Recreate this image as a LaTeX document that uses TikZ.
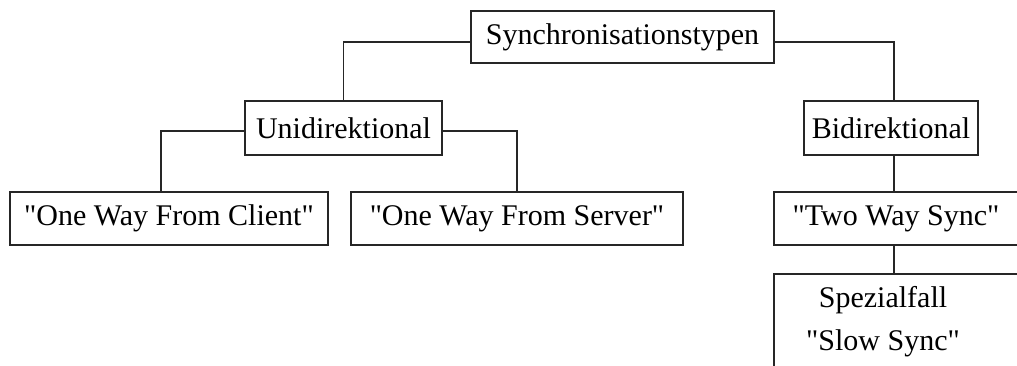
\documentclass[tikz,border=0pt]{standalone}
\usepackage{fontspec}
\setmainfont{Liberation Serif}[Ligatures=TeXOff]
\begin{document}
\begin{tikzpicture}[x=1pt, y=-1pt,
  box/.style={draw=black!85, line width=1.3pt, inner sep=0pt, font=\fontsize{30}{36}\selectfont},
  link/.style={draw=black!85, line width=1.3pt},
  txt/.style={inner sep=0pt, align=center, font=\fontsize{30}{43}\selectfont}]
\useasboundingbox (0,0) rectangle (1017,365);
\clip (0,0) rectangle (1017,365);

% tree nodes
\node[box, minimum width=303pt, minimum height=52pt] (root)   at (622.5,37)  {Synchronisationstypen};
\node[box, minimum width=197pt, minimum height=54pt] (uni)    at (343.5,128) {Unidirektional};
\node[box, minimum width=174pt, minimum height=54pt] (bi)     at (891,128)   {Bidirektional};
\node[box, minimum width=318pt, minimum height=53pt] (client) at (169,218.5) {"One Way From Client"};
\node[box, minimum width=332pt, minimum height=53pt] (server) at (517,218.5) {"One Way From Server"};
\node[box, minimum width=244pt, minimum height=53pt] (twoway) at (896,218.5) {"Two Way Sync"};
\node[box, minimum width=244pt, minimum height=150pt] (spez)  at (896,349)   {};
\node[txt] (spezlabel) at (883,322) {Spezialfall\\"Slow Sync"};

% connectors
\draw[link] ([yshift=-5pt]root.west) -| (uni.north);
\draw[link] ([yshift=-5pt]root.east) -| ([xshift=3pt]bi.north);
\draw[link] ([yshift=-3pt]uni.west) -| ([xshift=-8pt]client.north);
\draw[link] ([yshift=-3pt]uni.east) -| (server.north);
\draw[link] ([xshift=3pt]bi.south) -- ([xshift=-2pt]twoway.north);
\draw[link] ([xshift=-2pt]twoway.south) -- ([xshift=-2pt]spez.north);
\end{tikzpicture}
\end{document}
